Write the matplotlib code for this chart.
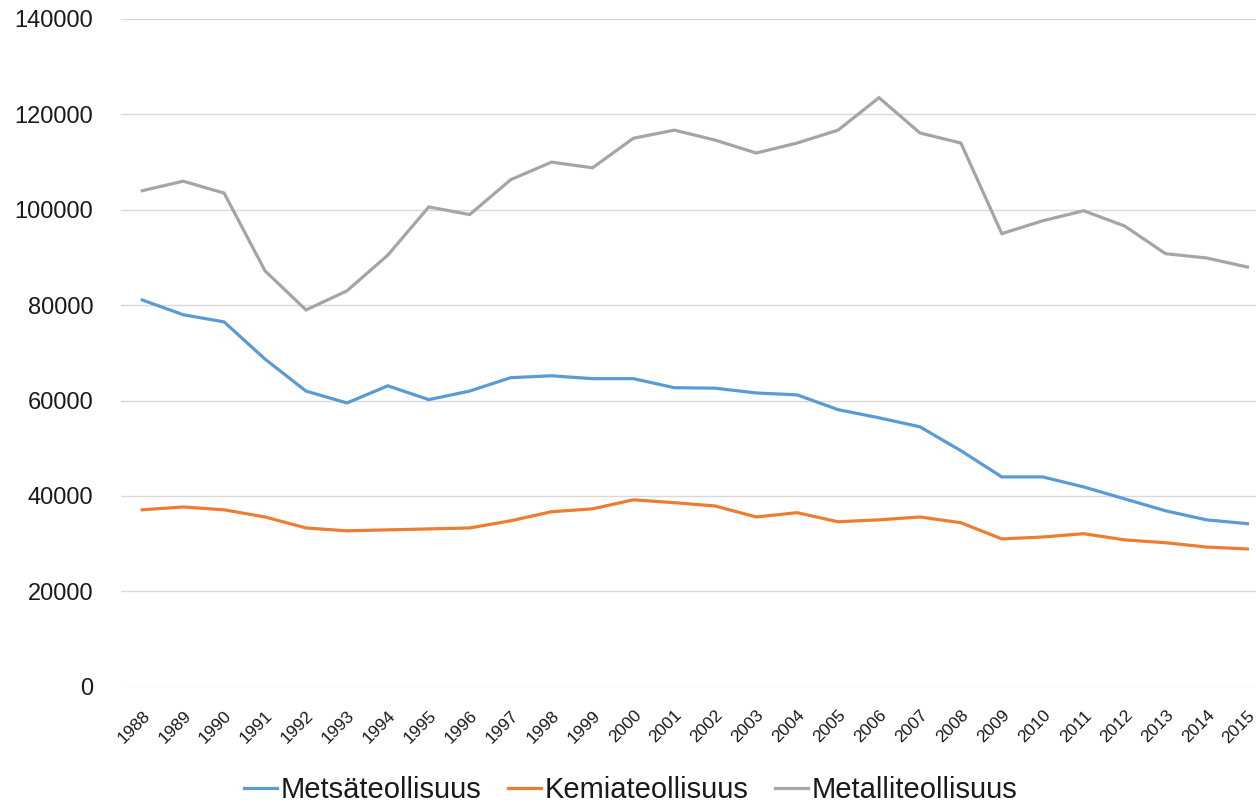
import matplotlib.pyplot as plt

years = list(range(1988, 2016))

metsa = [81100, 78000, 76500, 68700, 62000, 59500, 63100, 60200, 62000, 64800,
         65200, 64600, 64600, 62700, 62600, 61600, 61200, 58100, 56400, 54500,
         49500, 44000, 44000, 41900, 39400, 36900, 35000, 34200]
kemia = [37100, 37700, 37100, 35600, 33300, 32700, 32900, 33100, 33300, 34800,
         36700, 37300, 39200, 38600, 37900, 35600, 36500, 34600, 35000, 35600,
         34400, 31000, 31400, 32100, 30800, 30200, 29300, 28900]
metalli = [104000, 106000, 103500, 87200, 79000, 83000, 90500, 100600, 99000, 106300,
           110000, 108800, 115000, 116700, 114600, 111900, 114000, 116700, 123500, 116100,
           114000, 95000, 97700, 99800, 96600, 90800, 89900, 88000]

series = [("Metsäteollisuus", metsa, "#5B9BD5"),
          ("Kemiateollisuus", kemia, "#ED7D31"),
          ("Metalliteollisuus", metalli, "#A5A5A5")]

plt.rcParams['font.family'] = ['Liberation Sans', 'DejaVu Sans']

fig = plt.figure(figsize=(12.56, 8.08), dpi=100)
ax = fig.add_axes([0.0963, 0.150, 0.9037, 0.8265])

for name, vals, col in series:
    ax.plot(years, vals, color=col, lw=2.3, label=name, solid_joinstyle='miter')

ax.set_ylim(0, 140000)
ax.set_xlim(1987.48, 2015.21)
ax.set_yticks(range(0, 140001, 20000))
ax.set_xticks(years)
ax.set_xticklabels([str(y) for y in years], rotation=45, ha='right',
                   rotation_mode='anchor', fontsize=12.5, color='#1a1a1a')
ax.tick_params(axis='y', labelsize=17, labelcolor='#1a1a1a', length=0, pad=20)
ax.tick_params(axis='x', length=0, pad=15)
ax.grid(axis='y', color='#d9d9d9', lw=1)
ax.set_axisbelow(True)
for s in ax.spines.values():
    s.set_visible(False)

leg = fig.legend(loc='center', bbox_to_anchor=(0.502, 0.022), ncol=3, frameon=False,
                 fontsize=21, handlelength=1.15, columnspacing=0.9, handletextpad=0.12)
for t in leg.get_texts():
    t.set_color('#1a1a1a')

fig.savefig('out.png', dpi=100)
